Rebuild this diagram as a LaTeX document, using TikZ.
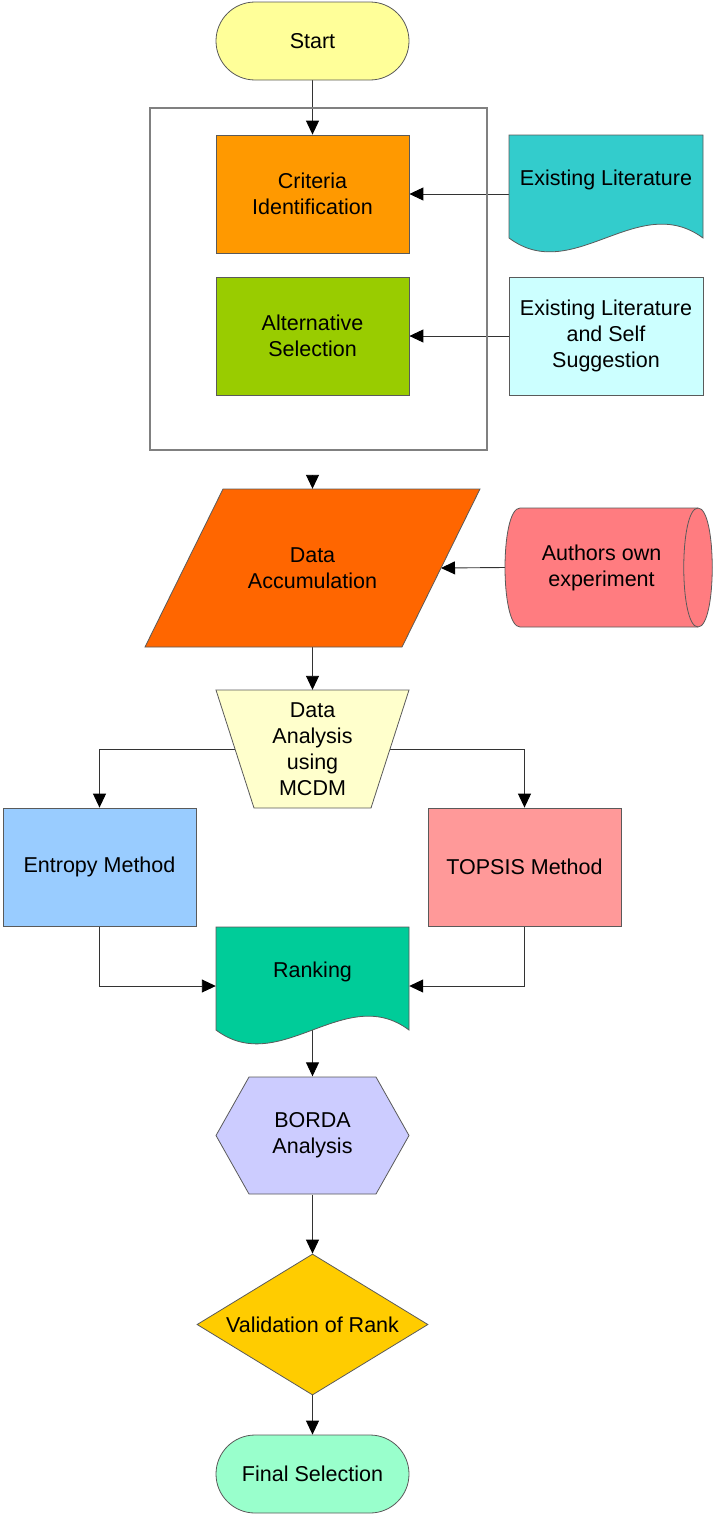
\documentclass[tikz,border=0pt]{standalone}
\usepackage{fontspec}
\setmainfont{Liberation Sans}
\usetikzlibrary{shapes.geometric,arrows.meta,calc}
\pgfdeclarelayer{background}
\pgfsetlayers{background,main}
\definecolor{cStart}{HTML}{FFFF99}
\definecolor{cCrit}{HTML}{FF9900}
\definecolor{cAlt}{HTML}{99CC00}
\definecolor{cLit}{HTML}{33CCCC}
\definecolor{cLitB}{HTML}{CCFFFF}
\definecolor{cAcc}{HTML}{FF6600}
\definecolor{cExp}{HTML}{FF7C80}
\definecolor{cAna}{HTML}{FFFFCC}
\definecolor{cEnt}{HTML}{99CCFF}
\definecolor{cTop}{HTML}{FF9999}
\definecolor{cRank}{HTML}{00CC99}
\definecolor{cBorda}{HTML}{CCCCFF}
\definecolor{cVal}{HTML}{FFCC00}
\definecolor{cFin}{HTML}{99FFCC}
\definecolor{cBorder}{HTML}{5A5A5A}
\definecolor{cLine}{HTML}{333333}
\definecolor{cFrame}{HTML}{808080}
\newcommand{\flowfont}{\fontsize{21.5pt}{26pt}\selectfont}
\tikzset{
  every node/.style={font=\flowfont, align=center, inner sep=0pt},
  boxnode/.style={rectangle, minimum width=193pt, minimum height=118pt, draw=cBorder, line width=0.8pt},
  ghost/.style={rectangle, minimum width=193pt, minimum height=118pt},
  shapeline/.style={draw=cBorder, line width=0.8pt},
  term/.style={rectangle, rounded corners=39pt, minimum width=193pt, minimum height=78pt, draw=cBorder, line width=0.8pt},
  arr/.style={draw=cLine, line width=0.9pt, -{Triangle[length=14pt,width=13pt,color=black]}},
}
\begin{document}
\begin{tikzpicture}[x=1pt,y=-1pt]
\useasboundingbox (0,0) rectangle (713,1515);

% Start
\node[term, fill=cStart] (start) at (312.5,41) {Start};

% Frame
\node[rectangle, draw=cFrame, line width=1.1pt, minimum width=337pt, minimum height=342pt] (frame) at (318.5,279) {};

% Criteria and alternatives
\node[boxnode, fill=cCrit] (crit) at (312.5,194) {Criteria\\Identification};
\node[boxnode, fill=cAlt] (alt) at (312.5,336) {Alternative\\Selection};

% Existing Literature (document shape)
\draw[shapeline, fill=cLit] (509,135) -- (703,135) -- (703,238)
  .. controls (638,190) and (573,286) .. (509,238) -- cycle;
\node[ghost, minimum width=194pt] (lit) at (606,194) {\raisebox{32pt}{Existing Literature}};

\node[boxnode, minimum width=194pt, fill=cLitB] (lit2) at (606,336) {Existing Literature\\and Self\\Suggestion};

% Data Accumulation (parallelogram)
\draw[shapeline, fill=cAcc] (223,489) -- (480,489) -- (402,647) -- (145,647) -- cycle;
\node[rectangle, minimum width=335pt, minimum height=158pt] (acc) at (312.5,568) {Data\\Accumulation};
\coordinate (accR) at (441,568);
\coordinate (fb) at (312.5,475);

% Authors own experiment (cylinder)
\draw[shapeline, fill=cExp] (520,508) -- (698,508)
  .. controls (717,508) and (717,627) .. (698,627) -- (520,627)
  .. controls (500,627) and (500,508) .. (520,508) -- cycle;
\draw[shapeline] (698,508) .. controls (679,508) and (679,627) .. (698,627);
\node[rectangle, minimum width=193pt, minimum height=119pt] (exp) at (601.5,567.5) {Authors own\\experiment};

% Data Analysis (trapezoid)
\draw[shapeline, fill=cAna] (216,690) -- (409,690) -- (371,808) -- (254,808) -- cycle;
\node[ghost] (ana) at (312.5,749) {Data\\Analysis\\using\\MCDM};

% Methods
\node[boxnode, fill=cEnt] (ent) at (99.5,867) {Entropy Method};
\node[boxnode, fill=cTop] (top) at (524.5,867) {TOPSIS Method};

% Ranking (document shape)
\draw[shapeline, fill=cRank] (216,927) -- (409,927) -- (409,1030)
  .. controls (345,982) and (280,1078) .. (216,1030) -- cycle;
\node[ghost] (rank) at (312.5,986) {\raisebox{32pt}{Ranking}};

% BORDA (hexagon)
\draw[shapeline, fill=cBorda] (216,1135.5) -- (249,1077) -- (376,1077) -- (409,1135.5)
  -- (376,1194) -- (249,1194) -- cycle;
\node[ghost] (borda) at (312.5,1135.5) {BORDA\\Analysis};

% Validation (diamond)
\node[diamond, aspect=1.64, minimum width=231pt, minimum height=141pt, draw=cBorder, line width=0.8pt, fill=cVal] (val) at (312.5,1324.5) {Validation of Rank};

% Final
\node[term, fill=cFin] (fin) at (312.5,1474) {Final Selection};

% Connectors
\begin{pgfonlayer}{background}
\draw[arr] (start.south) -- (crit.north);
\draw[arr] (lit.west) -- (crit.east);
\draw[arr] (lit2.west) -- (alt.east);
\draw[arr] (fb) -- (acc.north);
\draw[arr] (exp.west) -- (accR);
\draw[arr] (acc.south) -- (ana.north);
\draw[arr] (ana.center) -| (ent.north);
\draw[arr] (ana.center) -| (top.north);
\draw[arr] (ent.south) |- (rank.west);
\draw[arr] (top.south) |- (rank.east);
\draw[arr] (rank.center) -- (borda.north);
\draw[arr] (borda.south) -- (val.north);
\draw[arr] (val.south) -- (fin.north);
\end{pgfonlayer}
\end{tikzpicture}
\end{document}
